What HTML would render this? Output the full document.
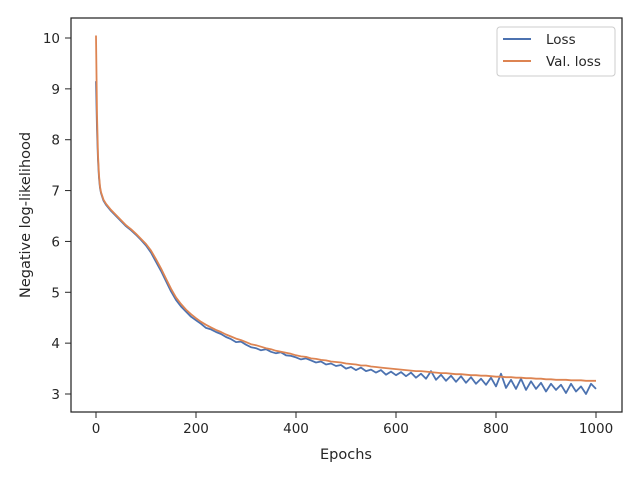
<!DOCTYPE html>
<html><head><meta charset="utf-8"><style>
body{margin:0;background:#fff;}
svg text{font-family:"DejaVu Sans","Liberation Sans",sans-serif;fill:#262626;}
</style></head><body>
<svg id="chart" width="640" height="480" xmlns="http://www.w3.org/2000/svg">
<rect x="0" y="0" width="640" height="480" fill="#fff"/>
<g id="plot"></g>
<rect x="71" y="18" width="551" height="394" fill="none" stroke="#262626" stroke-width="1.25"/>
<g id="axes"></g>
<text x="346" y="459" font-size="14.5" text-anchor="middle">Epochs</text>
<text transform="translate(30,215) rotate(-90)" font-size="14.5" text-anchor="middle">Negative log-likelihood</text>
<g>
<rect x="497" y="27" width="118" height="49" rx="3" fill="#fff" stroke="#ccc" stroke-width="1"/>
<line x1="503" y1="39" x2="531" y2="39" stroke="#4c72b0" stroke-width="2"/>
<text x="546" y="44" font-size="13.5">Loss</text>
<line x1="503" y1="61" x2="531" y2="61" stroke="#dd8452" stroke-width="2"/>
<text x="546" y="66" font-size="13.5">Val. loss</text>
</g>
</svg>
<script>
const epochs=[0,2,4,6,8,10,15,20,30,40,50,60,70,80,90,100,110,120,130,140,150,160,170,180,190,200,210,220,230,240,250,260,270,280,290,300,310,320,330,340,350,360,370,380,390,400,410,420,430,440,450,460,470,480,490,500,510,520,530,540,550,560,570,580,590,600,610,620,630,640,650,660,670,680,690,700,710,720,730,740,750,760,770,780,790,800,810,820,830,840,850,860,870,880,890,900,910,920,930,940,950,960,970,980,990,1000];
const lossValues=[9.15,8.2,7.6,7.25,7.05,6.95,6.8,6.72,6.6,6.5,6.4,6.3,6.22,6.13,6.03,5.92,5.78,5.6,5.42,5.22,5.02,4.85,4.72,4.62,4.52,4.45,4.38,4.3,4.27,4.22,4.18,4.12,4.08,4.02,4.03,3.97,3.92,3.9,3.86,3.88,3.83,3.8,3.82,3.76,3.75,3.72,3.68,3.7,3.66,3.62,3.64,3.58,3.6,3.55,3.57,3.5,3.53,3.47,3.52,3.45,3.48,3.42,3.47,3.38,3.44,3.37,3.43,3.35,3.42,3.32,3.4,3.3,3.45,3.28,3.38,3.26,3.36,3.24,3.35,3.22,3.33,3.2,3.3,3.18,3.32,3.15,3.4,3.12,3.28,3.1,3.3,3.08,3.25,3.1,3.22,3.05,3.2,3.08,3.18,3.02,3.2,3.05,3.15,3.0,3.2,3.1];
const valLossValues=[10.05,8.5,7.7,7.3,7.08,6.97,6.82,6.74,6.62,6.52,6.42,6.32,6.24,6.15,6.05,5.95,5.82,5.65,5.47,5.27,5.07,4.9,4.77,4.66,4.57,4.49,4.42,4.36,4.31,4.26,4.22,4.17,4.13,4.09,4.06,4.02,3.98,3.96,3.93,3.9,3.88,3.85,3.83,3.81,3.79,3.76,3.74,3.73,3.7,3.69,3.67,3.66,3.64,3.63,3.62,3.6,3.59,3.58,3.56,3.56,3.54,3.53,3.52,3.51,3.5,3.49,3.48,3.47,3.46,3.45,3.45,3.44,3.43,3.42,3.41,3.41,3.4,3.39,3.39,3.38,3.37,3.37,3.36,3.36,3.35,3.34,3.34,3.33,3.33,3.32,3.32,3.31,3.31,3.3,3.3,3.29,3.29,3.28,3.28,3.28,3.27,3.27,3.27,3.26,3.26,3.26];
const xTicks=[0,200,400,600,800,1000];
const yTicks=[3,4,5,6,7,8,9,10];
const NS="http://www.w3.org/2000/svg";
const xs=v=>96+v*0.5;
const ys=v=>394-(v-3)*(356/7);
const plot=document.getElementById('plot'),axes=document.getElementById('axes');
function line(vals,color,name){
  const p=document.createElementNS(NS,'path');
  p.setAttribute('d',vals.map((v,i)=>(i?'L':'M')+xs(epochs[i]).toFixed(1)+','+ys(v).toFixed(1)).join(''));
  p.setAttribute('fill','none');p.setAttribute('stroke',color);p.setAttribute('stroke-width','1.8');p.setAttribute('stroke-linejoin','round');
  
  
  plot.appendChild(p);
}
line(lossValues,'#4c72b0','loss-line');
line(valLossValues,'#dd8452','val-loss-line');
xTicks.forEach(t=>{
  const l=document.createElementNS(NS,'line');
  l.setAttribute('x1',xs(t));l.setAttribute('x2',xs(t));l.setAttribute('y1',412);l.setAttribute('y2',418);l.setAttribute('stroke','#262626');
  
  
  axes.appendChild(l);
  const tx=document.createElementNS(NS,'text');
  tx.setAttribute('x',xs(t));tx.setAttribute('y',433);tx.setAttribute('font-size','13.5');tx.setAttribute('text-anchor','middle');tx.textContent=t;
  
  
  axes.appendChild(tx);
});
yTicks.forEach(t=>{
  const l=document.createElementNS(NS,'line');
  l.setAttribute('x1',65);l.setAttribute('x2',71);l.setAttribute('y1',ys(t));l.setAttribute('y2',ys(t));l.setAttribute('stroke','#262626');
  
  
  axes.appendChild(l);
  const tx=document.createElementNS(NS,'text');
  tx.setAttribute('x',60);tx.setAttribute('y',ys(t)+5);tx.setAttribute('font-size','13.5');tx.setAttribute('text-anchor','end');tx.textContent=t;
  
  
  axes.appendChild(tx);
});
</script>
</body></html>
